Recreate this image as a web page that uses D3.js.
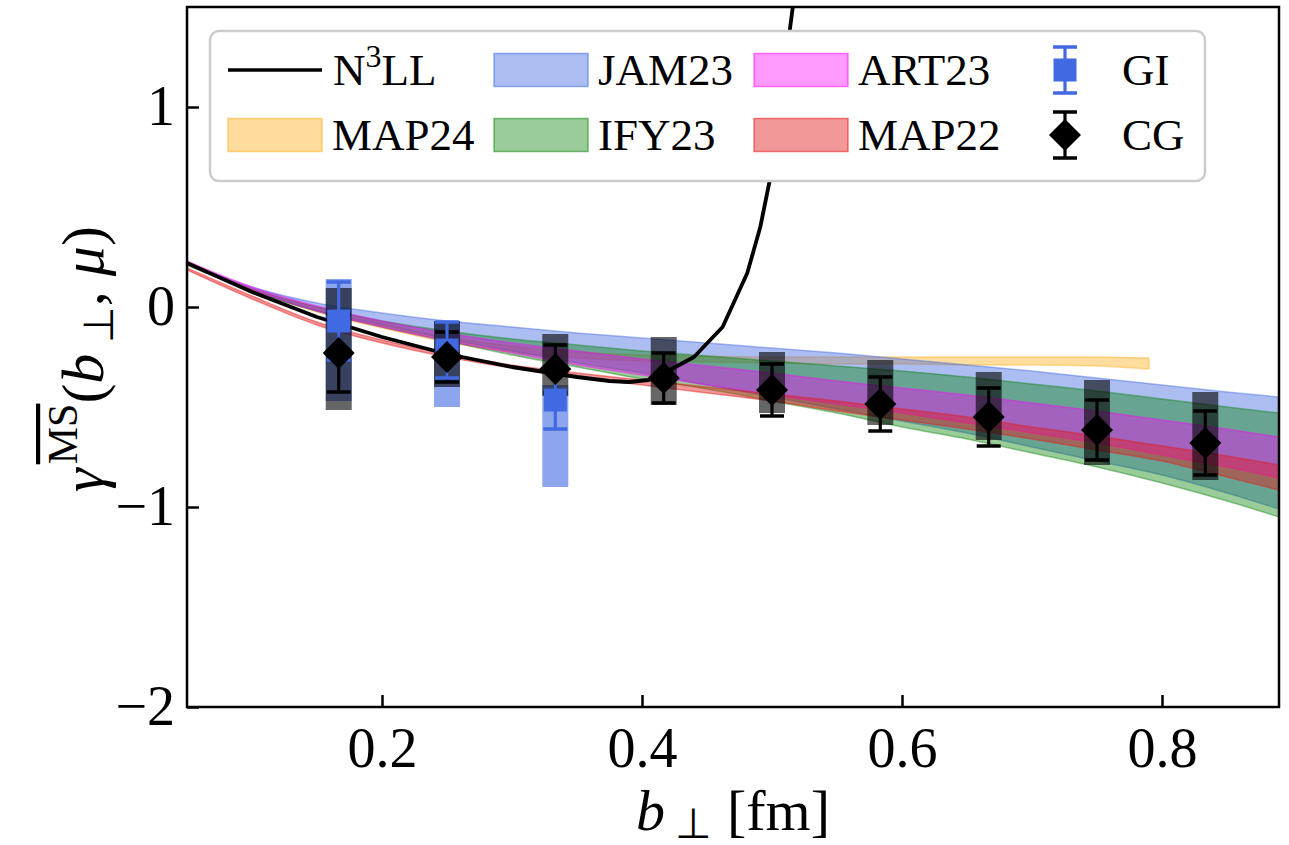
<!DOCTYPE html>
<html lang="en">
<head>
<meta charset="UTF-8">
<script src="https://cdn.jsdelivr.net/npm/d3@7"></script>
<title>gamma MS-bar vs b</title>
<style>
  body { margin: 0; background: #fff; }
  text { font-family: "Liberation Serif", "Times New Roman", serif; }
</style>
</head>
<body>
<svg class="chart"></svg>
<script>
// lattice points (b = n a, a = 1/12 fm)
var latticeB = [0.1667, 0.25, 0.3333, 0.4167, 0.5, 0.5833, 0.6667, 0.75, 0.8333];
var cgVal = [-0.23, -0.25, -0.31, -0.355, -0.415, -0.485, -0.55, -0.615, -0.68];
var cgErr = [0.195, 0.125, 0.12, 0.125, 0.13, 0.135, 0.145, 0.15, 0.16];
var cgSysHi = [0.095, -0.07, -0.135, -0.15, -0.225, -0.265, -0.325, -0.365, -0.425];
var cgSysLo = [-0.515, -0.40, -0.445, -0.49, -0.53, -0.59, -0.665, -0.79, -0.865];

var giB = [0.1667, 0.25, 0.3333];
var giVal = [-0.07, -0.215, -0.465];
var giErr = [0.195, 0.14, 0.145];
var giSysHi = [0.14, -0.07, -0.39];
var giSysLo = [-0.47, -0.50, -0.90];

// N3LL perturbative curve
var n3llB = [0.05, 0.1, 0.15, 0.2, 0.25, 0.3, 0.35, 0.375, 0.39, 0.405, 0.42, 0.44, 0.462, 0.481, 0.491, 0.498, 0.506, 0.514, 0.518];
var n3llVal = [0.22, 0.075, -0.05, -0.15, -0.235, -0.3, -0.35, -0.37, -0.375, -0.365, -0.32, -0.25, -0.1, 0.17, 0.4, 0.625, 1.0, 1.4, 1.6];

// global fits
var bandB = [0.05, 0.1, 0.15, 0.2, 0.25, 0.3, 0.35, 0.4, 0.45, 0.5, 0.55, 0.6, 0.65, 0.7, 0.75, 0.8, 0.85, 0.89];
var jamHi = [0.22, 0.10, 0.02, -0.03, -0.07, -0.10, -0.13, -0.155, -0.18, -0.205, -0.23, -0.26, -0.29, -0.32, -0.355, -0.39, -0.425, -0.45];
var jamLo = [0.21, 0.08, -0.02, -0.09, -0.16, -0.22, -0.28, -0.33, -0.39, -0.45, -0.51, -0.57, -0.63, -0.70, -0.77, -0.84, -0.93, -1.01];
var ifyHi = [0.22, 0.09, 0.0, -0.07, -0.12, -0.16, -0.19, -0.22, -0.245, -0.27, -0.295, -0.32, -0.35, -0.385, -0.42, -0.46, -0.5, -0.53];
var ifyLo = [0.21, 0.08, -0.02, -0.1, -0.17, -0.24, -0.30, -0.36, -0.41, -0.47, -0.53, -0.60, -0.66, -0.73, -0.80, -0.88, -0.97, -1.05];
var artHi = [0.23, 0.1, 0.005, -0.07, -0.13, -0.18, -0.22, -0.26, -0.295, -0.33, -0.37, -0.405, -0.44, -0.48, -0.52, -0.565, -0.61, -0.65];
var artLo = [0.215, 0.085, -0.02, -0.1, -0.17, -0.23, -0.29, -0.34, -0.39, -0.44, -0.485, -0.53, -0.58, -0.63, -0.68, -0.74, -0.80, -0.855];
var map22Hi = [0.195, 0.055, -0.075, -0.165, -0.235, -0.29, -0.33, -0.365, -0.4, -0.435, -0.47, -0.51, -0.55, -0.6, -0.645, -0.695, -0.745, -0.79];
var map22Lo = [0.185, 0.04, -0.09, -0.18, -0.25, -0.305, -0.35, -0.39, -0.43, -0.47, -0.52, -0.565, -0.61, -0.66, -0.715, -0.77, -0.85, -0.915];
var map24B = [0.05, 0.1, 0.15, 0.2, 0.25, 0.3, 0.35, 0.4, 0.45, 0.5, 0.55, 0.6, 0.65, 0.7, 0.75, 0.79];
var map24Hi = [0.225, 0.095, 0.0, -0.08, -0.15, -0.195, -0.225, -0.24, -0.245, -0.25, -0.25, -0.25, -0.25, -0.25, -0.25, -0.255];
var map24Lo = [0.21, 0.08, -0.025, -0.105, -0.175, -0.225, -0.255, -0.27, -0.275, -0.28, -0.285, -0.285, -0.29, -0.29, -0.295, -0.31];

var xTicks = [0.2, 0.4, 0.6, 0.8];
var yTicks = [-2, -1, 0, 1];

var svg = d3.select(".chart")
    .attr("width", 1289)
    .attr("height", 845);

var plotL = 187, plotR = 1279, plotT = 7, plotB = 707;

var x = d3.scaleLinear().domain([0.05, 0.89]).range([plotL, plotR]);
var y = d3.scaleLinear().domain([-2, 1.5]).range([plotB, plotT]);

svg.append("clipPath").attr("id", "plotclip")
    .append("rect")
    .attr("x", plotL).attr("y", plotT)
    .attr("width", plotR - plotL).attr("height", plotB - plotT);

var plot = svg.append("g").attr("clip-path", "url(#plotclip)");

function band(bs, hi, lo) {
    return bs.map(function(b, i) { return { b: b, hi: hi[i], lo: lo[i] }; });
}

var area = d3.area()
    .x(function(d) { return x(d.b); })
    .y0(function(d) { return y(d.lo); })
    .y1(function(d) { return y(d.hi); })
    .curve(d3.curveMonotoneX);

var bands = [
    { name: "MAP24", color: "#ffa500", alpha: 0.38, data: band(map24B, map24Hi, map24Lo) },
    { name: "JAM23", color: "#4169e1", alpha: 0.44, data: band(bandB, jamHi, jamLo) },
    { name: "IFY23", color: "#008000", alpha: 0.4, data: band(bandB, ifyHi, ifyLo) },
    { name: "ART23", color: "#ff00ff", alpha: 0.4, data: band(bandB, artHi, artLo) },
    { name: "MAP22", color: "#e41a1c", alpha: 0.45, data: band(bandB, map22Hi, map22Lo) }
];

bands.forEach(function(bd) {
    plot.append("path")
        .datum(bd.data)
        .attr("d", area)
        .attr("fill", bd.color)
        .attr("fill-opacity", bd.alpha)
        .attr("stroke", bd.color)
        .attr("stroke-opacity", bd.alpha)
        .attr("stroke-width", 1.5);
});

// N3LL
var line = d3.line()
    .x(function(d, i) { return x(n3llB[i]); })
    .y(function(d) { return y(d); });

plot.append("path")
    .datum(n3llVal)
    .attr("d", line)
    .attr("fill", "none")
    .attr("stroke", "black")
    .attr("stroke-width", 3.8)
    .attr("stroke-linejoin", "round");

// systematic boxes
var boxHalf = 0.01;
giB.forEach(function(b, i) {
    plot.append("rect")
        .attr("x", x(b - boxHalf))
        .attr("y", y(giSysHi[i]))
        .attr("width", x(b + boxHalf) - x(b - boxHalf))
        .attr("height", y(giSysLo[i]) - y(giSysHi[i]))
        .attr("fill", "#4169e1")
        .attr("fill-opacity", 0.6);
});
latticeB.forEach(function(b, i) {
    plot.append("rect")
        .attr("x", x(b - boxHalf))
        .attr("y", y(cgSysHi[i]))
        .attr("width", x(b + boxHalf) - x(b - boxHalf))
        .attr("height", y(cgSysLo[i]) - y(cgSysHi[i]))
        .attr("fill", "black")
        .attr("fill-opacity", 0.6);
});

function errorbar(g, cx, lo, hi, color) {
    g.append("line")
        .attr("x1", cx).attr("x2", cx)
        .attr("y1", lo).attr("y2", hi)
        .attr("stroke", color).attr("stroke-width", 3.2);
    [lo, hi].forEach(function(yy) {
        g.append("line")
            .attr("x1", cx - 12).attr("x2", cx + 12)
            .attr("y1", yy).attr("y2", yy)
            .attr("stroke", color).attr("stroke-width", 3.5);
    });
}

function diamond(g, cx, cy, r) {
    g.append("path")
        .attr("d", "M" + cx + "," + (cy - r) + "L" + (cx + r) + "," + cy +
            "L" + cx + "," + (cy + r) + "L" + (cx - r) + "," + cy + "Z")
        .attr("fill", "black");
}

function square(g, cx, cy, s, color) {
    g.append("rect")
        .attr("x", cx - s / 2).attr("y", cy - s / 2)
        .attr("width", s).attr("height", s)
        .attr("fill", color);
}

// CG error bars, then GI, then CG markers on top
latticeB.forEach(function(b, i) {
    errorbar(plot, x(b), y(cgVal[i] - cgErr[i]), y(cgVal[i] + cgErr[i]), "black");
});
giB.forEach(function(b, i) {
    errorbar(plot, x(b), y(giVal[i] - giErr[i]), y(giVal[i] + giErr[i]), "#4169e1");
    square(plot, x(b), y(giVal[i]), 23, "#4169e1");
});
latticeB.forEach(function(b, i) {
    diamond(plot, x(b), y(cgVal[i]), 16);
});

// axes
var xAxis = d3.axisBottom(x).tickValues(xTicks).tickFormat(d3.format(".1f"))
    .tickSizeInner(-12).tickSizeOuter(0).tickPadding(20);
var yAxis = d3.axisLeft(y).tickValues(yTicks).tickFormat(d3.format("d"))
    .tickSizeInner(-12).tickSizeOuter(0).tickPadding(12);

var gx = svg.append("g").attr("transform", "translate(0," + plotB + ")").call(xAxis);
var gy = svg.append("g").attr("transform", "translate(" + plotL + ",0)").call(yAxis);
[gx, gy].forEach(function(g) {
    g.select(".domain").remove();
    g.selectAll(".tick line").attr("stroke", "black").attr("stroke-width", 2.5);
    g.selectAll(".tick text")
        .attr("fill", "black")
        .style("font-family", "'Liberation Serif', serif")
        .style("font-size", "56px");
});

svg.append("rect")
    .attr("x", plotL).attr("y", plotT)
    .attr("width", plotR - plotL).attr("height", plotB - plotT)
    .attr("fill", "none")
    .attr("stroke", "black")
    .attr("stroke-width", 2.5);

// axis labels
var xl = svg.append("text")
    .attr("x", (plotL + plotR) / 2).attr("y", 830)
    .attr("text-anchor", "middle")
    .style("font-size", "58px");
xl.append("tspan").style("font-style", "italic").text("b");
xl.append("tspan").attr("dy", 8).style("font-size", "42px").text(" \u22A5");
xl.append("tspan").attr("dy", -8).text("  [fm]");

var yl = svg.append("text")
    .attr("transform", "translate(103," + ((plotT + plotB) / 2 + 2) + ") rotate(-90)")
    .attr("text-anchor", "middle")
    .style("font-size", "60px");
yl.append("tspan").style("font-style", "italic").text("\u03B3");
yl.append("tspan").attr("dx", 4).attr("dy", -26).style("font-size", "42px")
    .style("text-decoration", "overline").text("MS");
yl.append("tspan").attr("dy", 26).text("(");
yl.append("tspan").style("font-style", "italic").text("b");
yl.append("tspan").attr("dy", 10).style("font-size", "42px").text(" \u22A5");
yl.append("tspan").attr("dy", -10).text(", ");
yl.append("tspan").style("font-style", "italic").text("\u03BC");
yl.append("tspan").text(")");

// legend
var leg = svg.append("g");
leg.append("rect")
    .attr("x", 210).attr("y", 31)
    .attr("width", 995).attr("height", 150)
    .attr("rx", 9)
    .attr("fill", "white")
    .attr("stroke", "#cccccc")
    .attr("stroke-width", 2.5);

var colX = [228, 494, 754, 1020];
var rowY = [70, 135];
var handleW = 94, handleH = 33;

function legText(cx, cy, label) {
    return leg.append("text")
        .attr("x", cx).attr("y", cy + 15)
        .style("font-size", "45px")
        .text(label);
}

// N3LL entry
leg.append("line")
    .attr("x1", colX[0]).attr("x2", colX[0] + handleW)
    .attr("y1", rowY[0]).attr("y2", rowY[0])
    .attr("stroke", "black").attr("stroke-width", 3.5);
var nt = leg.append("text")
    .attr("x", colX[0] + 105).attr("y", rowY[0] + 15)
    .style("font-size", "45px");
nt.append("tspan").text("N");
nt.append("tspan").attr("dy", -18).style("font-size", "32px").text("3");
nt.append("tspan").attr("dy", 18).text("LL");

var bandSlots = { MAP24: [0, 1], JAM23: [1, 0], IFY23: [1, 1], ART23: [2, 0], MAP22: [2, 1] };
bands.forEach(function(bd) {
    var s = bandSlots[bd.name];
    leg.append("rect")
        .attr("x", colX[s[0]]).attr("y", rowY[s[1]] - handleH / 2)
        .attr("width", handleW).attr("height", handleH)
        .attr("fill", bd.color).attr("fill-opacity", bd.alpha)
        .attr("stroke", bd.color).attr("stroke-opacity", bd.alpha + 0.1)
        .attr("stroke-width", 1.5);
    legText(colX[s[0]] + 104, rowY[s[1]], bd.name);
});

// GI and CG entries
var mx = 1065;
errorbar(leg, mx, rowY[0] + 23, rowY[0] - 23, "#4169e1");
square(leg, mx, rowY[0], 23, "#4169e1");
legText(1122, rowY[0], "GI");
errorbar(leg, mx, rowY[1] + 23, rowY[1] - 23, "black");
diamond(leg, mx, rowY[1], 16);
legText(1122, rowY[1], "CG");
</script>
</body>
</html>
